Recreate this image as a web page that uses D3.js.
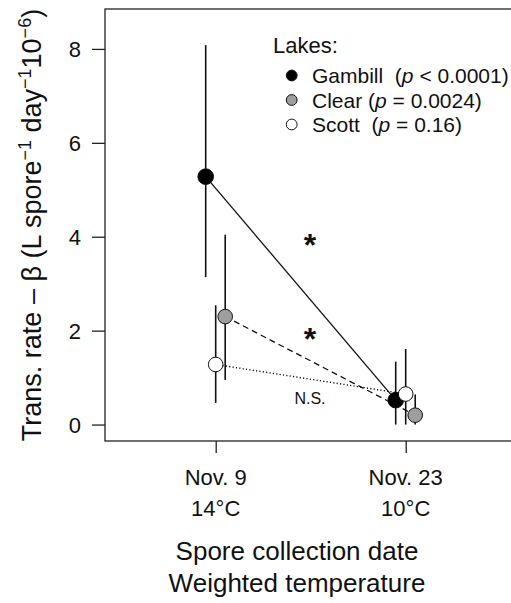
<!DOCTYPE html>
<html>
<head>
<meta charset="utf-8">
<script src="https://cdn.jsdelivr.net/npm/d3@7"></script>
<style>
  html, body { margin: 0; padding: 0; background: #fff; }
  svg text { font-family: "Liberation Sans", Arial, Helvetica, sans-serif; fill: #111; white-space: pre; }
</style>
</head>
<body>
<svg id="chart" width="511" height="603"></svg>
<script>
// ---- data ----
const dates = ["Nov. 9", "Nov. 23"];
const temps = ["14°C", "10°C"];
const lakes = ["Gambill", "Clear", "Scott"];
const pLabels = [["p", " < 0.0001"], ["p", " = 0.0024"], ["p", " = 0.16"]];
const gambillMean = [5.28, 0.52];
const gambillLow  = [3.14, 0.00];
const gambillHigh = [8.08, 1.34];
const clearMean = [2.30, 0.20];
const clearLow  = [0.95, 0.00];
const clearHigh = [4.04, 0.64];
const scottMean = [1.28, 0.65];
const scottLow  = [0.46, 0.00];
const scottHigh = [2.54, 1.61];
const yTicks = [0, 2, 4, 6, 8];
const annotations = ["*", "*", "N.S."];
const annotationValues = [4.0, 2.0, 0.55];

// ---- styles ----
const fills = { Gambill: "#000", Clear: "#9e9e9e", Scott: "#fff" };
const dashes = { Gambill: null, Clear: "6,4", Scott: "1.2,2.2" };
const offsets = { Gambill: -10, Clear: 9.5, Scott: 0 };
const series = [
  { lake: "Gambill", mean: gambillMean, low: gambillLow, high: gambillHigh },
  { lake: "Clear", mean: clearMean, low: clearLow, high: clearHigh },
  { lake: "Scott", mean: scottMean, low: scottLow, high: scottHigh }
];

const svg = d3.select("#chart");
const pLeft = 105, pTop = 9, pBottom = 441, pRight = 520;

const x = d3.scalePoint().domain(dates).range([215.7, 405.7]);
const y = d3.scaleLinear().domain([-0.35, 8.85]).range([pBottom, pTop]);

// frame
svg.append("rect").attr("x", pLeft).attr("y", pTop)
  .attr("width", pRight - pLeft).attr("height", pBottom - pTop)
  .attr("fill", "none").attr("stroke", "#222").attr("stroke-width", 1.3);

// y axis
const yAxis = svg.append("g").attr("transform", `translate(${pLeft},0)`)
  .call(d3.axisLeft(y).tickValues(yTicks).tickSize(13).tickPadding(11).tickFormat(d3.format("d")));
yAxis.select(".domain").remove();
yAxis.selectAll("line").attr("stroke", "#222").attr("stroke-width", 1.3);
yAxis.selectAll("text").attr("font-size", 22).attr("dy", "0.36em")
  .style("font-family", '"Liberation Sans", Arial, sans-serif').attr("fill", "#111");

// x axis
const xAxis = svg.append("g").attr("transform", `translate(0,${pBottom})`)
  .call(d3.axisBottom(x).tickSize(12).tickFormat(""));
xAxis.select(".domain").remove();
xAxis.selectAll("line").attr("stroke", "#222").attr("stroke-width", 1.3);

const xl = svg.append("g");
dates.forEach((d, i) => {
  xl.append("text").attr("x", x(d)).attr("y", 484.5).attr("text-anchor", "middle")
    .attr("font-size", 22).text(d);
  xl.append("text").attr("x", x(d)).attr("y", 516).attr("text-anchor", "middle")
    .attr("font-size", 22).text(temps[i]);
});

// axis titles
svg.append("text").attr("x", 297).attr("y", 560).attr("text-anchor", "middle")
  .attr("font-size", 26).text("Spore collection date");
svg.append("text").attr("x", 297).attr("y", 592).attr("text-anchor", "middle")
  .attr("font-size", 26).text("Weighted temperature");

const yt = svg.append("text").attr("transform", "translate(41,225) rotate(-90)")
  .attr("text-anchor", "middle").attr("font-size", 27);
yt.append("tspan").text("Trans. rate – β (L spore");
yt.append("tspan").attr("font-size", 18).attr("dy", -10).text("−1");
yt.append("tspan").attr("dy", 10).text(" day");
yt.append("tspan").attr("font-size", 18).attr("dy", -10).text("−1");
yt.append("tspan").attr("dy", 10).text("10");
yt.append("tspan").attr("font-size", 18).attr("dy", -10).text("−6");
yt.append("tspan").attr("dy", 10).text(")");

// connecting lines
const line = d3.line().x(d => d[0]).y(d => d[1]);
series.forEach(s => {
  const pts = dates.map((d, i) => [x(d) + offsets[s.lake], y(s.mean[i])]);
  svg.append("path").attr("d", line(pts)).attr("fill", "none")
    .attr("stroke", "#111").attr("stroke-width", s.lake === "Scott" ? 1.4 : 1.3)
    .attr("stroke-dasharray", dashes[s.lake]);
});

// error bars and points
series.forEach(s => {
  const g = svg.append("g");
  dates.forEach((d, i) => {
    const cx = x(d) + offsets[s.lake];
    g.append("line").attr("x1", cx).attr("x2", cx)
      .attr("y1", y(s.low[i])).attr("y2", y(s.high[i]))
      .attr("stroke", "#111").attr("stroke-width", 1.6);
    g.append("circle").attr("cx", cx).attr("cy", y(s.mean[i]))
      .attr("r", s.lake === "Gambill" ? 7.8 : 7.3)
      .attr("fill", fills[s.lake]).attr("stroke", "#111").attr("stroke-width", 1);
  });
});

// annotations
const annX = 310;
svg.append("text").attr("x", annX).attr("y", y(annotationValues[0]) + 19)
  .attr("text-anchor", "middle").attr("font-size", 32).attr("font-weight", "bold").text(annotations[0]);
svg.append("text").attr("x", annX).attr("y", y(annotationValues[1]) + 19)
  .attr("text-anchor", "middle").attr("font-size", 32).attr("font-weight", "bold").text(annotations[1]);
svg.append("text").attr("x", annX).attr("y", y(annotationValues[2]) + 5.5)
  .attr("text-anchor", "middle").attr("font-size", 16).text(annotations[2]);

// legend
svg.append("text").attr("x", 273).attr("y", 53.3).attr("font-size", 22).text("Lakes:");
lakes.forEach((l, i) => {
  const cy = 75.5 + i * 24.5;
  svg.append("circle").attr("cx", 291.7).attr("cy", cy).attr("r", 5.4)
    .attr("fill", fills[l]).attr("stroke", "#111").attr("stroke-width", 1);
  const t = svg.append("text").attr("x", 312).attr("y", cy + 7.6).attr("font-size", 21);
  t.append("tspan").text(l + (l === "Clear" ? " (" : "\u00a0\u00a0("));
  t.append("tspan").attr("font-style", "italic").text(pLabels[i][0]);
  t.append("tspan").text(pLabels[i][1] + ")");
});
</script>
</body>
</html>
